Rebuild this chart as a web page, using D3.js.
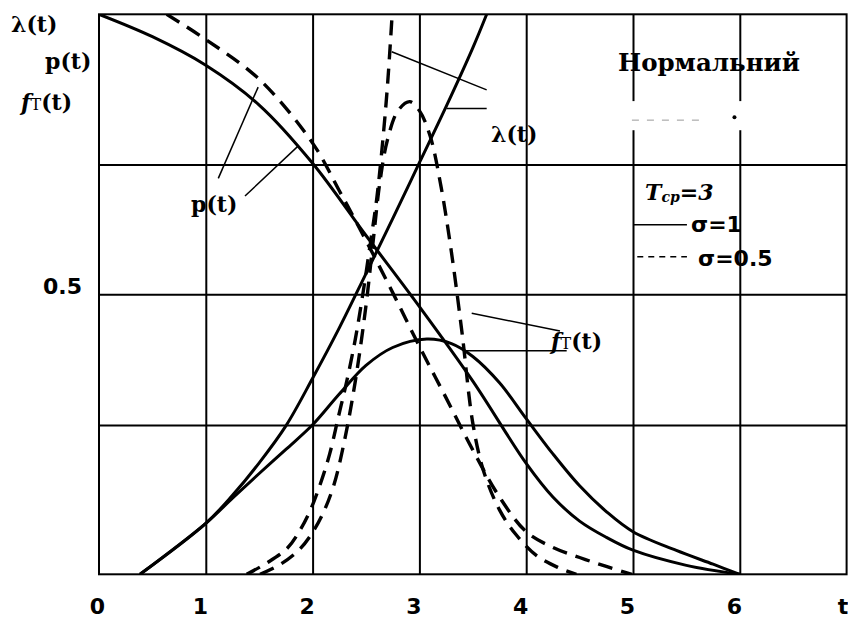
<!DOCTYPE html>
<html><head><meta charset="utf-8">
<script src="https://cdn.jsdelivr.net/npm/d3@7"></script>
<style>
body{margin:0;background:#fff}
svg{display:block}
.lbl{font-family:"DejaVu Serif",serif;font-weight:bold;fill:#000}
.num{font-family:"DejaVu Sans",sans-serif;font-weight:bold;fill:#000}
</style></head><body>
<svg id="chart" width="848" height="618"></svg>
<script>
// Normal law, mean life T = 3: reliability p(t), density f(t) and hazard λ(t)
// sigma = 1 (solid curves)
const tP1 = [0, 0.5, 1.0, 1.5, 2.0, 2.5, 3.0, 3.5, 4.0, 4.25, 4.5, 4.75, 5.0, 5.5, 6.0];
const vP1 = [1.0, 0.96, 0.909, 0.838, 0.734, 0.605, 0.478, 0.345, 0.198, 0.138, 0.095, 0.066, 0.043, 0.016, 0];
const tF1 = [0.384, 1.0, 1.25, 1.5, 1.75, 2.0, 2.25, 2.5, 2.75, 3.07, 3.3, 3.5, 3.75, 4.0, 4.25, 4.5, 4.75, 5.0, 5.4, 5.75, 6.0];
const vF1 = [0, 0.091, 0.136, 0.18, 0.223, 0.267, 0.322, 0.373, 0.405, 0.42, 0.412, 0.389, 0.342, 0.278, 0.215, 0.158, 0.112, 0.076, 0.043, 0.018, 0];
const tL1 = [0.384, 1.0, 1.25, 1.5, 1.75, 2.0, 2.25, 2.5, 2.75, 3.0, 3.25, 3.5, 3.63];
const vL1 = [0, 0.091, 0.141, 0.199, 0.265, 0.35, 0.44, 0.537, 0.635, 0.735, 0.835, 0.94, 1.0];
// sigma = 0.5 (dashed curves)
const tP05 = [0.634, 1.0, 1.5, 2.0, 2.25, 2.5, 2.75, 3.0, 3.25, 3.5, 3.75, 4.0, 4.25, 4.5, 4.75, 4.99];
const vP05 = [1.0, 0.955, 0.884, 0.77, 0.685, 0.596, 0.503, 0.407, 0.315, 0.222, 0.138, 0.076, 0.048, 0.03, 0.014, 0];
const tF05 = [1.508, 1.7, 1.88, 2.0, 2.1, 2.2, 2.3, 2.4, 2.5, 2.57, 2.63, 2.7, 2.8, 2.91, 3.0, 3.1, 3.2, 3.3, 3.4, 3.5, 3.6, 3.75, 3.9, 4.1, 4.3, 4.47];
const vF05 = [0, 0.018, 0.045, 0.075, 0.11, 0.16, 0.24, 0.345, 0.48, 0.6, 0.7, 0.775, 0.828, 0.844, 0.828, 0.783, 0.695, 0.575, 0.43, 0.27, 0.185, 0.115, 0.072, 0.033, 0.012, 0];
const tL05 = [1.383, 1.57, 1.76, 1.88, 1.98, 2.07, 2.16, 2.24, 2.32, 2.4, 2.47, 2.54, 2.6, 2.65, 2.7, 2.745];
const vL05 = [0, 0.02, 0.046, 0.078, 0.115, 0.16, 0.215, 0.28, 0.345, 0.42, 0.5, 0.59, 0.67, 0.76, 0.87, 1.0];

// axes and grid
const xTicks = [0, 1, 2, 3, 4, 5, 6, 7];
const xTickText = ["0", "1", "2", "3", "4", "5", "6", "t"];
const xGrid = [1, 2, 3, 4, 5, 6];
const yGrid = [0.2667, 0.5, 0.732];
const yTicks = [0.5];
const yTickText = ["0.5"];

// leader lines from curves to their names, [t0, v0, t1, v1]
const leadersP = [[1.117, 0.707, 1.49, 0.87], [1.367, 0.6755, 1.866, 0.765]];
const leadersL = [[2.741, 0.933, 3.63, 0.865], [3.256, 0.832, 3.63, 0.832]];
const leadersF = [[3.49, 0.466, 4.316, 0.4345], [3.411, 0.399, 4.379, 0.399]];

const svg = d3.select("#chart");
const x = d3.scaleLinear().domain([0, 7]).range([99, 846.6]);
const y = d3.scaleLinear().domain([0, 1]).range([574.3, 14.3]);
const plotH = y(0) - y(1);

svg.append("rect").attr("width", 848).attr("height", 618).attr("fill", "#fff");

// vertical grid
svg.append("g").attr("transform", `translate(0,${y(0)})`)
  .call(d3.axisBottom(x).tickValues(xGrid).tickSize(-plotH).tickFormat(""))
  .call(g => g.select(".domain").remove())
  .call(g => g.selectAll("line").attr("stroke", "#000").attr("stroke-width", 2));
// horizontal grid
svg.append("g").attr("transform", `translate(${x(0)},0)`)
  .call(d3.axisLeft(y).tickValues(yGrid).tickSize(-(x(7) - x(0))).tickFormat(""))
  .call(g => g.select(".domain").remove())
  .call(g => g.selectAll("line").attr("stroke", "#000").attr("stroke-width", 2));
// frame
svg.append("rect").attr("x", x(0)).attr("y", y(1))
  .attr("width", x(7) - x(0)).attr("height", plotH)
  .attr("fill", "none").attr("stroke", "#000").attr("stroke-width", 2);

// x tick labels
svg.append("g").attr("transform", `translate(0,${y(0)})`)
  .call(d3.axisBottom(x).tickValues(xTicks).tickSize(0).tickFormat((d, i) => xTickText[i]))
  .call(g => g.select(".domain").remove())
  .call(g => g.selectAll("text").attr("class", "num").attr("font-size", 22)
    .attr("y", 40).attr("dy", 0).attr("dx", (d) => d === 7 ? -4 : d === 0 ? -2 : -6));
// y tick label
svg.append("g").attr("transform", `translate(${x(0)},0)`)
  .call(d3.axisLeft(y).tickValues(yTicks).tickSize(0).tickFormat((d, i) => yTickText[i]))
  .call(g => g.select(".domain").remove())
  .call(g => g.selectAll("text").attr("class", "num").attr("font-size", 22)
    .attr("x", -17).attr("dy", -1));

// erased caption strip under the title
svg.append("rect").attr("x", x(4.6)).attr("y", y(0.845))
  .attr("width", x(6.56) - x(4.6)).attr("height", y(0.793) - y(0.845)).attr("fill", "#fff");
svg.append("line").attr("x1", x(4.99)).attr("x2", x(5.65)).attr("y1", y(0.811)).attr("y2", y(0.811))
  .attr("stroke", "#999").attr("stroke-width", 1).attr("stroke-dasharray", "7,8");
svg.append("circle").attr("cx", x(5.95)).attr("cy", y(0.816)).attr("r", 2).attr("fill", "#000");

// curves
svg.append("clipPath").attr("id", "plot").append("rect")
  .attr("x", x(0)).attr("y", y(1)).attr("width", x(7) - x(0)).attr("height", plotH);
const line = d3.line().x(d => x(d[0])).y(d => y(d[1])).curve(d3.curveCatmullRom.alpha(0.5));
const zip = (ts, vs) => ts.map((t, i) => [t, vs[i]]);
const curves = [
  { d: zip(tP1, vP1), dash: null },
  { d: zip(tF1, vF1), dash: null },
  { d: zip(tL1, vL1), dash: null },
  { d: zip(tP05, vP05), dash: "15,9" },
  { d: zip(tF05, vF05), dash: "15,9" },
  { d: zip(tL05, vL05), dash: "15,9" }
];
svg.append("g").attr("clip-path", "url(#plot)")
  .selectAll("path").data(curves).join("path")
  .attr("d", c => line(c.d))
  .attr("fill", "none").attr("stroke", "#000")
  .attr("stroke-width", c => c.dash ? 3.4 : 3)
  .attr("stroke-dasharray", c => c.dash);

// leader lines
svg.append("g").selectAll("line").data([...leadersP, ...leadersL, ...leadersF]).join("line")
  .attr("x1", d => x(d[0])).attr("y1", d => y(d[1]))
  .attr("x2", d => x(d[2])).attr("y2", d => y(d[3]))
  .attr("stroke", "#000").attr("stroke-width", 1.5);

// function names
function fName(sel, px, py) {
  const t = sel.append("text").attr("class", "lbl").attr("font-size", 22).attr("x", px).attr("y", py);
  t.append("tspan").attr("font-style", "italic").text("f");
  t.append("tspan").attr("font-size", 16).attr("font-weight", "normal").text("T");
  t.append("tspan").text("(t)");
}
svg.append("text").attr("class", "lbl").attr("font-size", 22).attr("x", 11).attr("y", 32).text("λ(t)");
svg.append("text").attr("class", "lbl").attr("font-size", 22).attr("x", 45).attr("y", 69).text("p(t)");
fName(svg, 21, 110);
svg.append("text").attr("class", "lbl").attr("font-size", 22).attr("x", 191).attr("y", 212).text("p(t)");
svg.append("text").attr("class", "lbl").attr("font-size", 22).attr("x", 491).attr("y", 142).text("λ(t)");
fName(svg, 551, 349);

// title and legend
svg.append("text").attr("class", "lbl").attr("font-size", 24.5).attr("x", 618).attr("y", 71).text("Нормальний");
const tcp = svg.append("text").attr("class", "lbl").attr("font-style", "italic").attr("font-size", 22)
  .attr("x", 645).attr("y", 200);
tcp.append("tspan").text("T");
tcp.append("tspan").attr("font-size", 14).attr("dy", 2).text("cp");
tcp.append("tspan").attr("dy", -2).text("=3");
svg.append("line").attr("x1", x(5)).attr("x2", x(5.505)).attr("y1", y(0.624)).attr("y2", y(0.624))
  .attr("stroke", "#000").attr("stroke-width", 1.5);
svg.append("text").attr("class", "num").attr("font-size", 22).attr("x", 691).attr("y", 232).text("σ=1");
svg.append("line").attr("x1", x(5.04)).attr("x2", x(5.505)).attr("y1", y(0.567)).attr("y2", y(0.567))
  .attr("stroke", "#000").attr("stroke-width", 1.5).attr("stroke-dasharray", "6,5");
svg.append("text").attr("class", "num").attr("font-size", 22).attr("x", 698).attr("y", 266).text("σ=0.5");
</script>
</body></html>
